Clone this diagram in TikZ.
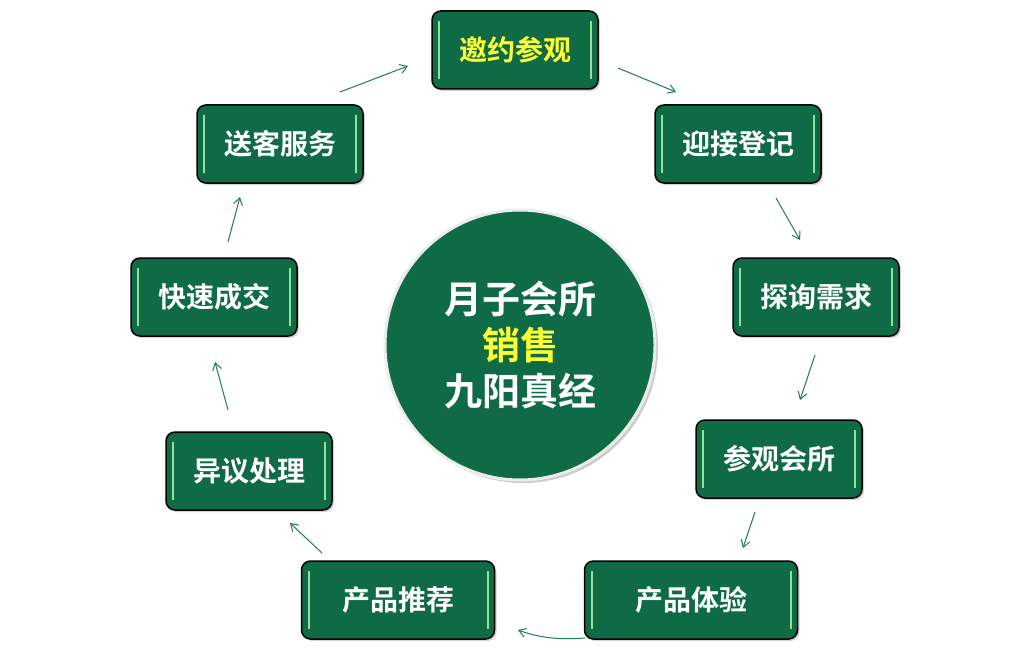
\documentclass[tikz,border=0pt]{standalone}
\usepackage{fontspec}
\setmainfont{Noto Sans CJK SC Bold}
\usetikzlibrary{arrows.meta,shadows}
\definecolor{bg}{HTML}{0F6B45}
\definecolor{ar}{HTML}{1E7A5A}
\definecolor{yel}{HTML}{FFFF33}
\tikzset{
 stepbox/.style={draw=black,line width=1.5pt,rounded corners=9pt,fill=bg,minimum width=166pt,minimum height=78pt,text=white,font=\fontsize{28}{30}\selectfont,drop shadow={opacity=0.35,shadow xshift=2pt,shadow yshift=-2pt},
  path picture={\draw[white!70!green,line width=2pt,opacity=0.8] ([xshift=7pt,yshift=-10pt]path picture bounding box.north west)--([xshift=7pt,yshift=10pt]path picture bounding box.south west);
  \draw[white!70!green,line width=2pt,opacity=0.8] ([xshift=-7pt,yshift=-10pt]path picture bounding box.north east)--([xshift=-7pt,yshift=10pt]path picture bounding box.south east);}},
 flow/.style={ar,line width=1pt,-{Straight Barb[length=7pt,width=9pt]}}
}
\begin{document}
\begin{tikzpicture}[x=1pt,y=-1pt]
\useasboundingbox (0,0) rectangle (1030,666);
\node[circle,minimum size=270pt,fill=bg,draw=white!85!gray,line width=3pt,drop shadow={opacity=0.4,shadow xshift=3pt,shadow yshift=-3pt},text=white,font=\fontsize{38}{46}\selectfont,align=center] (c) at (520,345) {月子会所\\\textcolor{yel}{销售}\\九阳真经};
\node[stepbox,text=yel] (n1) at (515,50) {邀约参观};
\node[stepbox] (n2) at (738,144) {迎接登记};
\node[stepbox] (n3) at (816,297) {探询需求};
\node[stepbox] (n4) at (779,459) {参观会所};
\node[stepbox,minimum width=213pt] (n5) at (691,600) {产品体验};
\node[stepbox,minimum width=193pt] (n6) at (398,600) {产品推荐};
\node[stepbox] (n7) at (249,471) {异议处理};
\node[stepbox] (n8) at (214,297) {快速成交};
\node[stepbox] (n9) at (280,144) {送客服务};
\foreach \a/\b/\c/\d [count=\i] in {340/92/408/66, 618/68/676/92, 776/198/800/240, 815/355/800/400, 755/512/743/548, 322/553/290/523, 228/410/215/362, 228/242/240/197}{
 \coordinate (s\i) at (\a,\b); \coordinate (e\i) at (\c,\d);
 \draw[flow] (s\i) -- (e\i);}
\coordinate (s9) at (585,638); \coordinate (e9) at (518,630);
\draw[flow] (s9) .. controls (560,640) and (540,638) .. (e9);
\end{tikzpicture}
\end{document}
